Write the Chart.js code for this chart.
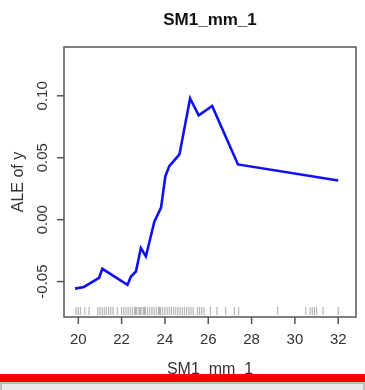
<!DOCTYPE html>
<html>
<head>
<meta charset="utf-8">
<script src="https://cdn.jsdelivr.net/npm/chart.js@4.4.0/dist/chart.umd.min.js"></script>
<style>
    body { margin: 0; background: #fff; }
    #wrap { position: relative; width: 365px; height: 390px; overflow: hidden; }
    #barra { position: absolute; left: 0; top: 374px; width: 365px; height: 8px; background: #ff0000; }
    #rodape { position: absolute; left: 0; top: 382px; width: 361px; height: 8px; background: #e9e9e9; border: 2px solid #bdbdbd; border-bottom: none; }
</style>
</head>
<body>
<div id="wrap">
    <canvas id="grafico1" width="365" height="390"></canvas>
    <div id="barra"></div>
    <div id="rodape"></div>
</div>
<script>
// valores
var eixoX = [19.85, 20.26, 20.96, 21.11, 22.27, 22.43, 22.66, 22.89, 23.12, 23.51, 23.82, 24.02, 24.20, 24.67, 25.16, 25.56, 26.18, 27.37, 32.0];
var ale = [-0.0557, -0.0543, -0.047, -0.0397, -0.0527, -0.0459, -0.0419, -0.0229, -0.0297, -0.0016, 0.0097, 0.0351, 0.0432, 0.0527, 0.0978, 0.0843, 0.0918, 0.0446, 0.0316];
var rug = [19.9, 20.0, 20.1, 20.3, 20.5, 20.9, 21.0, 21.1, 21.2, 21.3, 21.4, 21.5, 21.6, 21.8, 22.0, 22.1, 22.2, 22.3, 22.4, 22.5, 22.6, 22.65, 22.7, 22.8, 22.85, 22.9, 23.0, 23.05, 23.1, 23.2, 23.3, 23.4, 23.5, 23.6, 23.7, 23.75, 23.8, 23.9, 24.0, 24.1, 24.2, 24.3, 24.4, 24.5, 24.6, 24.7, 24.8, 24.9, 25.0, 25.1, 25.2, 25.3, 25.5, 25.6, 25.7, 25.8, 26.1, 26.4, 26.8, 27.2, 27.4, 29.2, 30.5, 30.7, 30.8, 30.9, 31.0, 31.3, 32.0];
var ticksX = [20, 22, 24, 26, 28, 30, 32];
var ticksY = [-0.05, 0.00, 0.05, 0.10];
var rotulosY = ['-0.05', '0.00', '0.05', '0.10'];
var titulo = 'SM1_mm_1';
var tituloX = 'SM1_mm_1';
var tituloY = 'ALE of y';

var pontos = eixoX.map(function (x, i) { return { x: x, y: ale[i] }; });
var pontosRug = rug.map(function (x) { return { x: x, y: -0.0737 }; });

// desenha caixa, ticks e textos no estilo do R
var estiloR = {
    id: 'estiloR',
    afterDraw: function (chart) {
        var ctx = chart.ctx;
        var a = chart.chartArea;
        var sx = chart.scales.x;
        var sy = chart.scales.y;
        ctx.save();
        ctx.strokeStyle = '#555555';
        ctx.lineWidth = 1.5;
        ctx.strokeRect(a.left, a.top, a.right - a.left, a.bottom - a.top);

        ctx.fillStyle = '#333333';
        ctx.font = '15px "Liberation Sans", Arial, sans-serif';
        ctx.textAlign = 'center';
        ctx.textBaseline = 'middle';
        ticksX.forEach(function (t) {
            var px = sx.getPixelForValue(t);
            ctx.beginPath();
            ctx.moveTo(px, a.bottom);
            ctx.lineTo(px, a.bottom + 7);
            ctx.stroke();
            ctx.fillText(String(t), px, 340);
        });
        ticksY.forEach(function (t, i) {
            var py = sy.getPixelForValue(t);
            ctx.beginPath();
            ctx.moveTo(a.left - 7, py);
            ctx.lineTo(a.left, py);
            ctx.stroke();
            ctx.save();
            ctx.translate(43, py);
            ctx.rotate(-Math.PI / 2);
            ctx.fillText(rotulosY[i], 0, 0);
            ctx.restore();
        });

        ctx.font = '16px "Liberation Sans", Arial, sans-serif';
        ctx.fillText(tituloX, (a.left + a.right) / 2, 370);
        ctx.save();
        ctx.translate(19, (a.top + a.bottom) / 2);
        ctx.rotate(-Math.PI / 2);
        ctx.fillText(tituloY, 0, 0);
        ctx.restore();

        ctx.fillStyle = '#111111';
        ctx.font = 'bold 17px "Liberation Sans", Arial, sans-serif';
        ctx.fillText(titulo, 210, 20);
        ctx.restore();
    }
};

new Chart(document.getElementById('grafico1'), {
    type: 'scatter',
    data: {
        datasets: [{
            data: pontos,
            showLine: true,
            borderColor: '#1010f0',
            borderWidth: 2.6,
            pointRadius: 0,
            tension: 0
        }, {
            data: pontosRug,
            pointStyle: 'line',
            rotation: 90,
            radius: 4,
            borderColor: 'rgba(110,110,110,0.5)',
            borderWidth: 1.2
        }]
    },
    plugins: [estiloR],
    options: {
        responsive: false,
        animation: false,
        layout: {
            padding: { left: 64, top: 47, right: 9, bottom: 73 }
        },
        plugins: {
            legend: { display: false },
            tooltip: { enabled: false }
        },
        scales: {
            x: { type: 'linear', display: false, min: 19.34, max: 32.82 },
            y: { type: 'linear', display: false, min: -0.0786, max: 0.1394 }
        }
    }
});
</script>
</body>
</html>
